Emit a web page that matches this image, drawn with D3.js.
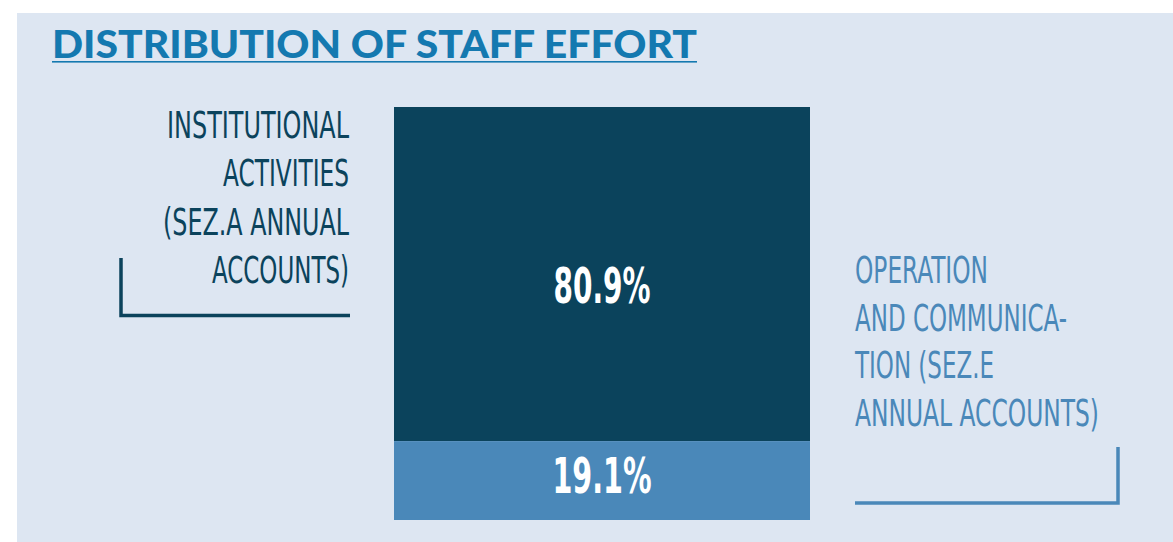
<!DOCTYPE html>
<html>
<head>
<meta charset="utf-8">
<script src="https://cdn.jsdelivr.net/npm/d3@7/dist/d3.min.js"></script>
<style>
  html, body { margin: 0; padding: 0; background: #ffffff; }
  svg { display: block; }
</style>
</head>
<body>
<svg id="chart" width="1173" height="542"></svg>
<script>
// Staff effort split between the two areas (percent of total)
const categories = ["Institutional activities", "Operation and communication"];
const values = [80.9, 19.1];
const valueLabels = ["80.9%", "19.1%"];
const leftLabelLines = ["INSTITUTIONAL", "ACTIVITIES", "(SEZ.A ANNUAL", "ACCOUNTS)"];
const rightLabelLines = ["OPERATION", "AND COMMUNICA-", "TION (SEZ.E", "ANNUAL ACCOUNTS)"];
const title = "DISTRIBUTION OF STAFF EFFORT";

const W = 1173, H = 542;
const dark = "#0b435c", light = "#4a88b9", titleColor = "#1479b0", panel = "#dde6f2";
const narrow = "'Liberation Sans Narrow','DejaVu Sans Condensed','Open Sans',sans-serif";

const svg = d3.select("#chart");

// background panel
svg.append("rect").attr("x", 17).attr("y", 13).attr("width", W - 17).attr("height", H - 13).attr("fill", panel);

// title with underline
svg.append("text")
  .attr("x", 52).attr("y", 58)
  .attr("font-family", "Lato, 'Open Sans', sans-serif")
  .attr("font-weight", 900).attr("font-size", 38)
  .attr("fill", titleColor)
  .attr("textLength", 645).attr("lengthAdjust", "spacingAndGlyphs")
  .text(title);
svg.append("rect").attr("x", 52).attr("y", 61).attr("width", 645).attr("height", 1.6).attr("fill", titleColor);

// stacked bar: first category on top, second at the base
const y = d3.scaleLinear().domain([0, 100]).range([520, 107]);
const x = d3.scaleBand().domain(["total"]).range([394, 810]).padding(0);

const stacked = [];
let acc = 0;
for (let i = values.length - 1; i >= 0; i--) {
  stacked[i] = { cat: categories[i], v: values[i], y0: acc, y1: acc + values[i], label: valueLabels[i] };
  acc += values[i];
}
const colors = d3.scaleOrdinal().domain(categories).range([dark, light]);

svg.selectAll("rect.seg").data(stacked).join("rect")
  .attr("class", "seg")
  .attr("x", x("total"))
  .attr("width", x.bandwidth())
  .attr("y", d => y(d.y1))
  .attr("height", d => y(d.y0) - y(d.y1))
  .attr("fill", d => colors(d.cat));

// value labels inside the segments
const labelShift = [29, 12];
const labelWidth = [97, 99];
svg.selectAll("text.val").data(stacked).join("text")
  .attr("class", "val")
  .attr("x", x("total") + x.bandwidth() / 2)
  .attr("y", (d, i) => (y(d.y0) + y(d.y1)) / 2 + labelShift[i])
  .attr("text-anchor", "middle")
  .attr("font-family", narrow).attr("font-weight", 700).attr("font-size", 50)
  .attr("fill", "#ffffff")
  .attr("textLength", (d, i) => labelWidth[i]).attr("lengthAdjust", "spacingAndGlyphs")
  .text(d => d.label);

// left category label (right-aligned) with bracket
const leftWidths = [182, 126, 186, 137];
svg.selectAll("text.left").data(leftLabelLines).join("text")
  .attr("class", "left")
  .attr("x", 349).attr("y", (d, i) => 138 + i * 48.3)
  .attr("text-anchor", "end")
  .attr("font-family", narrow).attr("font-size", 37)
  .attr("fill", dark)
  .attr("textLength", (d, i) => leftWidths[i]).attr("lengthAdjust", "spacingAndGlyphs")
  .text(d => d);
svg.append("path")
  .attr("d", "M121,258 V315.5 H350")
  .attr("fill", "none").attr("stroke", dark).attr("stroke-width", 3.5);

// right category label (left-aligned) with bracket
const rightWidths = [133, 212, 139, 244];
svg.selectAll("text.right").data(rightLabelLines).join("text")
  .attr("class", "right")
  .attr("x", 855).attr("y", (d, i) => 283 + i * 47.7)
  .attr("font-family", narrow).attr("font-size", 38)
  .attr("fill", light)
  .attr("textLength", (d, i) => rightWidths[i]).attr("lengthAdjust", "spacingAndGlyphs")
  .text(d => d);
svg.append("path")
  .attr("d", "M855,503 H1118 V447")
  .attr("fill", "none").attr("stroke", light).attr("stroke-width", 3.5);
</script>
</body>
</html>
